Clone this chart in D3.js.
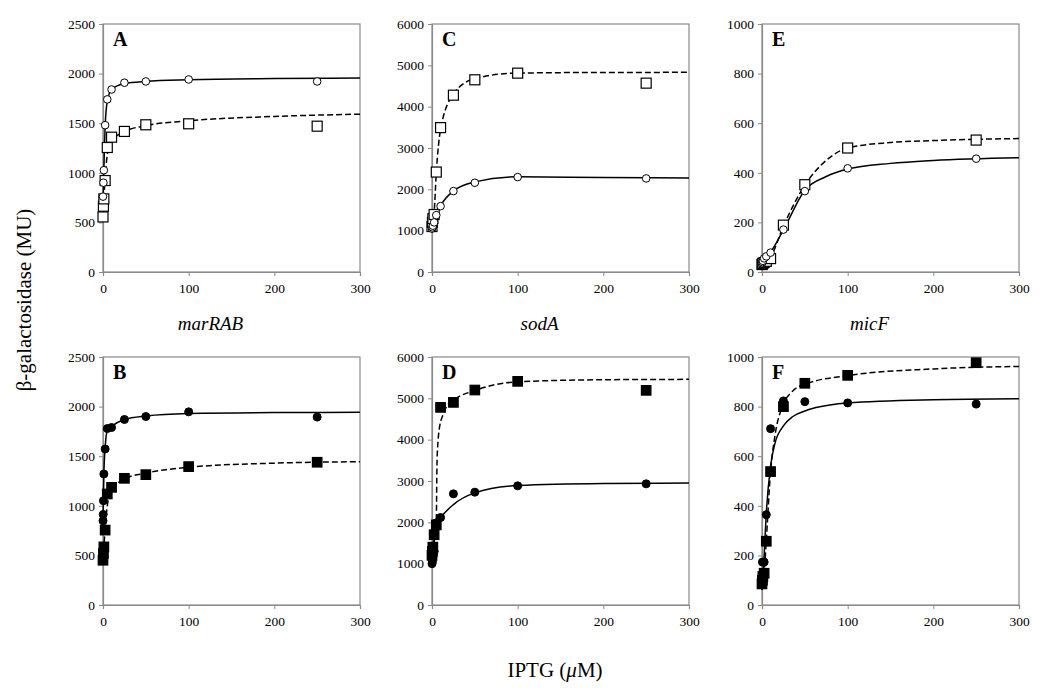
<!DOCTYPE html>
<html><head><meta charset="utf-8">
<script src="https://cdn.jsdelivr.net/npm/d3@7"></script>
<style>body{margin:0;background:#fff}svg{display:block}text{font-family:"Liberation Serif","Times New Roman",serif;fill:#000}</style>
</head><body><svg id="chart" width="1050" height="691"></svg>
<script>
// ---- data ----
const panelLetters = ["A","B","C","D","E","F"];
const genes = ["marRAB","sodA","micF"];
const xTicks = [0,100,200,300];
const yTicksMar = [0,500,1000,1500,2000,2500];
const yTicksSod = [0,1000,2000,3000,4000,5000,6000];
const yTicksMic = [0,200,400,600,800,1000];

// Panel A (open symbols)
const aCircles = [[0,760],[0.5,900],[1,1026],[2.5,1480],[5,1740],[10,1840],[25,1908],[50,1921],[100,1941],[250,1921]];
const aSquares = [[0,555],[0.5,663],[1,737],[2.5,922],[5,1255],[10,1359],[25,1417],[50,1484],[100,1494],[250,1470]];
const aSolid = [[0,700],[0.5,880],[1,1030],[2.5,1470],[5,1720],[10,1840],[25,1900],[50,1922],[100,1938],[200,1950],[300,1955]];
const aDashed = [[0,555],[0.5,660],[1,740],[2.5,950],[5,1180],[10,1320],[25,1415],[50,1475],[100,1524],[200,1568],[300,1591]];
// Panel B (filled symbols)
const bCircles = [[0,849],[0.25,913],[0.5,1051],[1,1321],[2.5,1573],[5,1779],[10,1789],[25,1870],[50,1900],[100,1947],[250,1894]];
const bSquares = [[0,451],[0.5,519],[1,586],[2.5,755],[5,1119],[10,1186],[25,1277],[50,1314],[100,1395],[250,1439]];
const bSolid = [[0,840],[0.5,1050],[1,1320],[2.5,1580],[5,1760],[10,1800],[25,1870],[50,1905],[100,1930],[200,1940],[300,1942]];
const bDashed = [[0,450],[1,590],[2.5,760],[5,1000],[10,1150],[25,1270],[50,1330],[100,1388],[200,1430],[300,1444]];
// Panel C (open symbols)
const cCircles = [[0,1050],[0.5,1080],[1,1120],[2.5,1200],[5,1375],[10,1593],[25,1957],[50,2159],[100,2296],[250,2264]];
const cSquares = [[0,1100],[0.5,1200],[1,1290],[2.5,1391],[5,2418],[10,3493],[25,4278],[50,4650],[100,4811],[250,4569]];
const cSolid = [[0,1050],[2.5,1200],[5,1380],[10,1600],[25,1960],[50,2180],[100,2302],[200,2285],[300,2272]];
const cDashed = [[0,1100],[1,1250],[2.5,1450],[5,2400],[10,3450],[25,4300],[50,4680],[100,4812],[200,4828],[300,4830]];
// Panel D (filled symbols)
const dCircles = [[0,1000],[0.5,1050],[1,1150],[2.5,1300],[5,1987],[10,2116],[25,2689],[50,2730],[100,2883],[250,2931]];
const dSquares = [[0,1200],[0.5,1300],[1,1400],[2.5,1700],[5,1938],[10,4781],[25,4902],[50,5201],[100,5411],[250,5193]];
const dSolid = [[0,1000],[2.5,1500],[5,1950],[10,2110],[25,2430],[50,2713],[100,2890],[200,2940],[300,2950]];
const dDashed = [[0,1200],[2.5,1700],[5,2050],[5.8,3400],[7,3950],[8.1,4200],[12.8,4600],[18.6,4850],[25,4960],[50,5190],[100,5400],[200,5450],[300,5459]];
// Panel E (open symbols)
const eCircles = [[0,35],[0.5,40],[1,45],[2.5,55],[5,63],[10,78],[25,171],[50,326],[100,418],[250,457]];
const eSquares = [[0,30],[0.5,32],[1,35],[2.5,38],[5,43],[10,54],[25,189],[50,352],[100,500],[250,532]];
const eSolid = [[0,35],[5,60],[10,80],[25,170],[50,330],[75,385],[100,415],[150,438],[200,450],[300,461]];
const eDashed = [[0,30],[5,40],[10,60],[25,185],[50,350],[75,450],[100,500],[150,522],[200,530],[300,538]];
// Panel F (filled symbols)
const fCircles = [[0,110],[0.5,173],[2.5,173],[5,364],[10,711],[25,823],[50,820],[100,815],[250,810]];
const fSquares = [[0,85],[0.5,100],[1,115],[2.5,128],[5,257],[10,538],[25,800],[50,894],[100,926],[250,977]];
const fSolid = [[0,60],[2.5,200],[5,370],[10,560],[15,650],[25,722],[36,760],[50,782],[63,796],[100,815],[200,828],[300,832]];
const fDashed = [[0,80],[2.5,128],[5,260],[10,538],[15,680],[25,810],[35,860],[50,890],[100,925],[200,952],[300,962]];

const panels = [
  {letter:panelLetters[0], col:0, row:0, yMax:2500, ticks:yTicksMar, filled:false, circles:aCircles, squares:aSquares, solid:aSolid, dashed:aDashed},
  {letter:panelLetters[1], col:0, row:1, yMax:2500, ticks:yTicksMar, filled:true,  circles:bCircles, squares:bSquares, solid:bSolid, dashed:bDashed},
  {letter:panelLetters[2], col:1, row:0, yMax:6000, ticks:yTicksSod, filled:false, circles:cCircles, squares:cSquares, solid:cSolid, dashed:cDashed},
  {letter:panelLetters[3], col:1, row:1, yMax:6000, ticks:yTicksSod, filled:true,  circles:dCircles, squares:dSquares, solid:dSolid, dashed:dDashed},
  {letter:panelLetters[4], col:2, row:0, yMax:1000, ticks:yTicksMic, filled:false, circles:eCircles, squares:eSquares, solid:eSolid, dashed:eDashed},
  {letter:panelLetters[5], col:2, row:1, yMax:1000, ticks:yTicksMic, filled:true,  circles:fCircles, squares:fSquares, solid:fSolid, dashed:fDashed}
];

// ---- layout ----
const colLeft = [103, 432, 762];
const rowTop = [24, 357];
const pw = 257, ph = 248;
const frame = "#8a8a8a";

const svg = d3.select("#chart");

panels.forEach(p => {
  const x0 = colLeft[p.col], y0 = rowTop[p.row];
  const g = svg.append("g").attr("transform", `translate(${x0},${y0})`);
  const x = d3.scaleLinear().domain([0,300]).range([0,pw]);
  const y = d3.scaleLinear().domain([0,p.yMax]).range([ph,0]);

  // frame
  g.append("rect").attr("x",0).attr("y",0).attr("width",pw).attr("height",ph)
    .attr("fill","none").attr("stroke",frame).attr("stroke-width",1.2);

  const yAxis = g.append("g").call(d3.axisLeft(y).tickValues(p.ticks).tickSize(4).tickPadding(4).tickFormat(d3.format("d")));
  yAxis.select(".domain").attr("stroke",frame).attr("stroke-width",1.2);
  yAxis.selectAll(".tick line").attr("stroke",frame);
  yAxis.selectAll("text").attr("font-size",13.5).attr("font-family","Liberation Serif").attr("fill","#000");

  const xAxis = g.append("g").attr("transform",`translate(0,${ph})`)
    .call(d3.axisBottom(x).tickValues(xTicks).tickSize(4).tickPadding(7).tickFormat(d3.format("d")));
  xAxis.select(".domain").attr("stroke",frame).attr("stroke-width",1.2);
  xAxis.selectAll(".tick line").attr("stroke",frame);
  xAxis.selectAll("text").attr("font-size",13.5).attr("font-family","Liberation Serif").attr("fill","#000");

  const line = d3.line().x(d=>x(d[0])).y(d=>y(d[1])).curve(d3.curveMonotoneX);
  g.append("path").datum(p.solid).attr("d",line).attr("fill","none").attr("stroke","#000").attr("stroke-width",1.5);
  g.append("path").datum(p.dashed).attr("d",line).attr("fill","none").attr("stroke","#000").attr("stroke-width",1.5).attr("stroke-dasharray","6,3");

  const fill = p.filled ? "#000" : "#fff";
  const sq = p.filled ? 9.5 : 10;
  g.selectAll(".sq").data(p.squares).join("rect")
    .attr("x",d=>x(d[0])-sq/2).attr("y",d=>y(d[1])-sq/2).attr("width",sq).attr("height",sq)
    .attr("fill",fill).attr("stroke","#000").attr("stroke-width",1.2);
  g.selectAll(".ci").data(p.circles).join("circle")
    .attr("cx",d=>x(d[0])).attr("cy",d=>y(d[1])).attr("r",p.filled?4:3.8)
    .attr("fill",fill).attr("stroke","#000").attr("stroke-width",1);

  g.append("text").attr("x",10).attr("y",22).attr("font-size",20).attr("font-weight","bold").text(p.letter);

  if (p.row === 0) {
    svg.append("text").attr("x", x0 + pw/2 - 21).attr("y", 330)
      .attr("text-anchor","middle").attr("font-size",19).attr("font-style","italic").text(genes[p.col]);
  }
});

svg.append("text").attr("transform","translate(31,300) rotate(-90)")
  .attr("text-anchor","middle").attr("font-size",21).text("β-galactosidase (MU)");

const xl = svg.append("text").attr("x",555).attr("y",677).attr("text-anchor","middle").attr("font-size",21);
xl.append("tspan").text("IPTG (");
xl.append("tspan").attr("font-style","italic").text("μ");
xl.append("tspan").text("M)");
</script></body></html>
